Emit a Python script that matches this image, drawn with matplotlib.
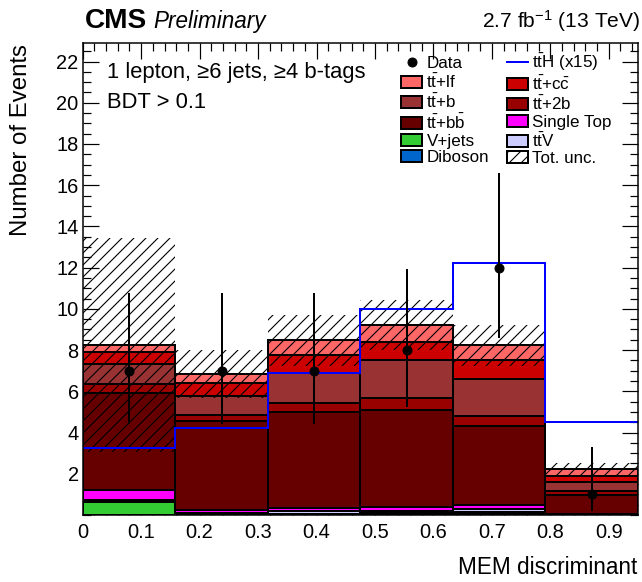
import numpy as np
import matplotlib
matplotlib.use("Agg")
import matplotlib.pyplot as plt
from matplotlib.ticker import MultipleLocator
from matplotlib.patches import Patch
from matplotlib.lines import Line2D

plt.rcParams['font.family'] = ['Liberation Sans', 'DejaVu Sans']
plt.rcParams['mathtext.fontset'] = 'custom'
plt.rcParams['mathtext.rm'] = 'Liberation Sans'
plt.rcParams['mathtext.it'] = 'Liberation Sans:italic'
plt.rcParams['mathtext.bf'] = 'Liberation Sans:bold'
plt.rcParams['hatch.linewidth'] = 1.1

# binning of the MEM discriminant
edges = np.linspace(0, 0.95, 7)

# backgrounds (stacked from the bottom up)
diboson = [0.02, 0.01, 0.02, 0.03, 0.04, 0.00]
vjets = [0.60, 0.04, 0.05, 0.08, 0.10, 0.01]
ttv = [0.13, 0.06, 0.10, 0.10, 0.15, 0.02]
single_top = [0.46, 0.11, 0.17, 0.16, 0.20, 0.00]
ttbb = [4.70, 4.35, 4.68, 4.73, 3.85, 0.94]
tt2b = [0.44, 0.26, 0.41, 0.57, 0.47, 0.21]
ttb = [0.97, 0.92, 1.48, 1.86, 1.78, 0.41]
ttcc = [0.58, 0.65, 0.83, 0.86, 0.93, 0.32]
ttlf = [0.36, 0.44, 0.73, 0.84, 0.71, 0.31]
tot_unc = [5.18, 1.15, 1.25, 1.22, 1.00, 0.30]

# signal ttH scaled x15
tth_x15 = [3.24, 4.24, 6.88, 10.00, 12.24, 4.50]

# data with Poisson errors
data = [7, 7, 7, 8, 12, 1]
data_err_lo = [2.58, 2.58, 2.58, 2.77, 3.41, 0.83]
data_err_hi = [3.77, 3.77, 3.77, 3.95, 4.58, 2.30]

fig = plt.figure(figsize=(642 / 72, 582 / 72), dpi=72)
ax = fig.add_axes([82.7 / 642, 1 - 515 / 582, (638 - 82.7) / 642, (515 - 43) / 582])

centers = 0.5 * (edges[:-1] + edges[1:])
width = np.diff(edges)

stack = [
    (diboson, '#0066CC', 'Diboson'),
    (vjets, '#33CC33', 'V+jets'),
    (ttv, '#CCCCFF', r'$\mathrm{t\bar{t}V}$'),
    (single_top, '#FF00FF', 'Single Top'),
    (ttbb, '#660000', r'$\mathrm{t\bar{t}}$+$\mathrm{b\bar{b}}$'),
    (tt2b, '#990000', r'$\mathrm{t\bar{t}}$+2b'),
    (ttb, '#993333', r'$\mathrm{t\bar{t}}$+b'),
    (ttcc, '#CC0000', r'$\mathrm{t\bar{t}}$+$\mathrm{c\bar{c}}$'),
    (ttlf, '#FF6666', r'$\mathrm{t\bar{t}}$+lf'),
]

handles = {}
bottom = np.zeros(6)
for vals, col, lab in stack:
    vals = np.array(vals)
    ax.bar(centers, vals, width, bottom=bottom, color=col, edgecolor='k', linewidth=2, zorder=2)
    handles[lab] = Patch(facecolor=col, edgecolor='k', linewidth=2)
    bottom = bottom + vals

total = bottom
unc = np.array(tot_unc)
ax.bar(centers, 2 * unc, width, bottom=total - unc, fill=False, hatch='//', edgecolor='k', linewidth=0, zorder=3)
handles['Tot. unc.'] = Patch(facecolor='white', edgecolor='k', hatch='//', linewidth=2)

ax.stairs(tth_x15, edges, baseline=None, color='#0000FF', linewidth=2, zorder=4)
handles['tth'] = Line2D([], [], color='#0000FF', linewidth=2)

ax.errorbar(centers, data, yerr=[data_err_lo, data_err_hi], fmt='o', color='k', ms=9,
            elinewidth=2, capsize=0, zorder=5)
handles['Data'] = Line2D([], [], color='k', marker='o', ms=9, linewidth=0)

ax.set_xlim(0, 0.95)
ax.set_ylim(0, 22.9)
ax.xaxis.set_minor_locator(MultipleLocator(0.02))
ax.yaxis.set_minor_locator(MultipleLocator(0.5))
ax.set_xticks(np.arange(0, 0.95, 0.1))
ax.set_xticklabels(['0', '0.1', '0.2', '0.3', '0.4', '0.5', '0.6', '0.7', '0.8', '0.9'])
ax.set_yticks(np.arange(2, 23, 2))
ax.tick_params(which='both', direction='in', top=True, right=True, width=1.2, labelsize=20)
ax.tick_params(which='major', length=16)
ax.tick_params(which='minor', length=8)
ax.tick_params(axis='y', pad=4)
ax.tick_params(axis='x', pad=8)
for s in ax.spines.values():
    s.set_linewidth(1.5)
    s.set_zorder(10)

fig.text(21 / 642, 1 - 44 / 582, 'Number of Events', rotation=90, ha='center', va='top', fontsize=24)
fig.text(637 / 642, 1 - 567 / 582, 'MEM discriminant', ha='right', va='center', fontsize=22.5)

fig.text(85 / 642, 1 - 28 / 582, 'CMS', fontsize=28, fontweight='bold', va='baseline')
fig.text(153 / 642, 1 - 28 / 582, 'Preliminary', fontsize=22.5, style='italic', va='baseline')
fig.text(640 / 642, 1 - 28 / 582, r'2.7 fb$^{\mathrm{-1}}$ (13 TeV)', fontsize=21, ha='right', va='baseline')

ax.text(107 / 642, 1 - 78 / 582, '1 lepton, \u22656 jets, \u22654 b-tags', transform=fig.transFigure,
        fontsize=22, va='baseline')
ax.text(107 / 642, 1 - 108 / 582, 'BDT > 0.1', transform=fig.transFigure, fontsize=22, va='baseline')

col1 = ['Data', r'$\mathrm{t\bar{t}}$+lf', r'$\mathrm{t\bar{t}}$+b', r'$\mathrm{t\bar{t}}$+$\mathrm{b\bar{b}}$',
        'V+jets', 'Diboson']
col2 = ['tth', r'$\mathrm{t\bar{t}}$+$\mathrm{c\bar{c}}$', r'$\mathrm{t\bar{t}}$+2b', 'Single Top',
        r'$\mathrm{t\bar{t}V}$', 'Tot. unc.']
labels = col1 + col2
hs = [handles[k] for k in labels]
labels = [r'$\mathrm{t\bar{t}H}$ (x15)' if k == 'tth' else k for k in labels]
ax.legend(hs, labels, ncol=2, loc='upper left', bbox_to_anchor=(401 / 642, 1 - 52 / 582),
          bbox_transform=fig.transFigure, frameon=False, fontsize=17, handlelength=1.25,
          handleheight=0.7, handletextpad=0.25, columnspacing=1.05, labelspacing=0.1,
          borderpad=0, borderaxespad=0)

fig.savefig('out.png', dpi=72)
